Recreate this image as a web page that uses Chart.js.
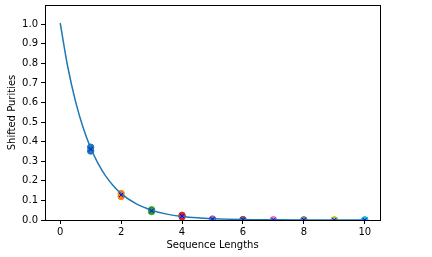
<!DOCTYPE html>
<html>
<head>
<meta charset="UTF-8">
<title>Shifted Purities</title>
<script src="https://cdn.jsdelivr.net/npm/chart.js"></script>
<style>
  body { margin: 0; background: #fff; }
</style>
</head>
<body>
<canvas id="myChart" width="432" height="257"></canvas>
<script>
  // measured points, two per sequence length
  var seqLengths = [1, 2, 3, 4, 5, 6, 7, 8, 9, 10];
  var purityRunA = [0.372, 0.135, 0.052, 0.024, 0.005, 0.002, 0.001, 0.0005, 0.0002, 0.0001];
  var purityRunB = [0.352, 0.120, 0.043, 0.016, 0.003, 0.001, 0.0005, 0.0002, 0.0001, 0];
  var purityMean = [0.362, 0.128, 0.047, 0.020, 0.004, 0.0015, 0.0007, 0.0003, 0.0001, 0.0001];

  // fitted curve
  var fitX = [0, 0.25, 0.5, 0.75, 1, 1.25, 1.5, 1.75, 2, 2.5, 3, 3.5, 4, 4.5, 5, 6, 7, 8, 9, 10];
  var fitY = [1.005, 0.78, 0.607, 0.472, 0.368, 0.287, 0.223, 0.174, 0.135, 0.082, 0.05, 0.03, 0.018, 0.011, 0.007, 0.0025, 0.001, 0.0003, 0.0001, 0.00005];

  var xTicks = [0, 2, 4, 6, 8, 10];
  var yTicks = [0, 0.1, 0.2, 0.3, 0.4, 0.5, 0.6, 0.7, 0.8, 0.9, 1.0];

  var groupColors = ['#1f77b4', '#ff7f0e', '#2ca02c', '#d62728', '#9467bd',
                     '#8c564b', '#e377c2', '#7f7f7f', '#bcbd22', '#17becf'];

  function toPoints(xs, ys) {
    return xs.map(function (x, i) { return { x: x, y: ys[i] }; });
  }

  var boxPlugin = {
    id: 'box',
    afterDraw: function (chart) {
      var a = chart.chartArea;
      var ctx = chart.ctx;
      ctx.save();
      ctx.strokeStyle = '#000';
      ctx.lineWidth = 1;
      ctx.strokeRect(Math.round(a.left) + 0.5, Math.round(a.top) + 0.5,
                     Math.round(a.right - a.left), Math.round(a.bottom - a.top));
      ctx.restore();
    }
  };

  Chart.defaults.font.family = 'DejaVu Sans';
  Chart.defaults.font.size = 10;
  Chart.defaults.color = '#000';

  new Chart(document.getElementById('myChart'), {
    type: 'scatter',
    data: {
      datasets: [
        {
          data: toPoints(seqLengths, purityRunA),
          backgroundColor: groupColors,
          borderColor: groupColors,
          pointRadius: 3.2,
          order: 3
        },
        {
          data: toPoints(seqLengths, purityRunB),
          backgroundColor: groupColors,
          borderColor: groupColors,
          pointRadius: 3.2,
          order: 3
        },
        {
          type: 'line',
          data: toPoints(fitX, fitY),
          borderColor: '#1f77b4',
          borderWidth: 1.5,
          pointRadius: 0,
          cubicInterpolationMode: 'monotone',
          fill: false,
          order: 2
        },
        {
          data: toPoints(seqLengths, purityMean),
          pointStyle: 'crossRot',
          pointRadius: 3,
          borderWidth: 1,
          borderColor: '#0000ff',
          backgroundColor: '#0000ff',
          order: 1
        }
      ]
    },
    options: {
      responsive: false,
      animation: false,
      events: [],
      layout: { padding: { top: 2, right: 52, left: 0, bottom: 0 } },
      plugins: {
        legend: { display: false },
        tooltip: { enabled: false }
      },
      scales: {
        x: {
          type: 'linear',
          min: -0.5,
          max: 10.5,
          afterBuildTicks: function (axis) {
            axis.ticks = xTicks.map(function (v) { return { value: v }; });
          },
          afterFit: function (axis) {
            axis.height = 37;
            axis.paddingLeft = 0;
            axis.paddingRight = 0;
          },
          grid: { drawOnChartArea: false, drawTicks: true, tickLength: 4, color: '#000' },
          border: { display: true, color: '#000' },
          ticks: { padding: 2, maxRotation: 0 },
          title: { display: true, text: 'Sequence Lengths', padding: { top: 0, bottom: 6 } }
        },
        y: {
          type: 'linear',
          min: 0,
          max: 1.098,
          afterBuildTicks: function (axis) {
            axis.ticks = yTicks.map(function (v) { return { value: v }; });
          },
          afterFit: function (axis) {
            axis.width = 45;
            axis.paddingTop = 0;
            axis.paddingBottom = 0;
          },
          grid: { drawOnChartArea: false, drawTicks: true, tickLength: 4, color: '#000' },
          border: { display: true, color: '#000' },
          ticks: {
            padding: 3,
            callback: function (v) { return v.toFixed(1); }
          },
          title: { display: true, text: 'Shifted Purities', padding: { top: 6, bottom: 0 } }
        }
      }
    },
    plugins: [boxPlugin]
  });
</script>
</body>
</html>
